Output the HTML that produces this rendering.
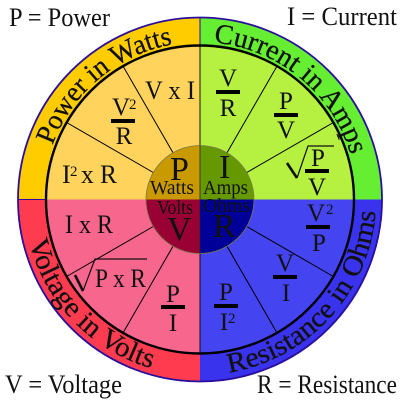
<!DOCTYPE html>
<html lang="en">
<head>
<meta charset="utf-8">
<title>Ohm's Law Wheel</title>
<style>
html,body{margin:0;padding:0;background:#fff;width:400px;height:400px;overflow:hidden}
svg{display:block}
text{font-family:"Liberation Serif",serif;fill:#111}
.lbl{font-size:26px}
.ring{font-size:28px;font-weight:normal;stroke:#111;stroke-width:.3px}
.f{font-size:25px;text-anchor:middle}
.fl{font-size:26px}
.sup{font-size:15px}
.hub-big{font-size:34px}
.hub-sm{font-size:20px}
.bar{fill:#000}
.rad{fill:none;stroke:#111;stroke-width:1.2}
.rad-thick{fill:none;stroke:#111;stroke-width:2.6}
.ring-0{fill:#ffcc00}.ring-1{fill:#66ee33}.ring-2{fill:#3a33ee}.ring-3{fill:#ff3b50}
.body-0{fill:#ffd35c}.body-1{fill:#b6f040}.body-2{fill:#4444f0}.body-3{fill:#f7668c}
.hub-0{fill:#c99a00}.hub-1{fill:#669900}.hub-2{fill:#000099}.hub-3{fill:#990033}
</style>
</head>
<body>
<svg xmlns="http://www.w3.org/2000/svg" width="400" height="400" viewBox="0 0 400 400">
  <defs>
    <path id="arc-power" d="M52.5 145.3A157 157 0 0 1 172.7 44.4"/>
    <path id="arc-current" d="M213.7 42.6A157 157 0 0 1 350.6 154.7"/>
    <path id="arc-voltage" d="M29.2 241.6A176 176 0 0 0 151.5 368.2"/>
    <path id="arc-resistance" d="M229 372.6A176 176 0 0 0 375.7 210"/>
  </defs>
  <g id="marks"></g>

  <text class="lbl" x="9" y="26" textLength="101" lengthAdjust="spacingAndGlyphs">P = Power</text>
  <text class="lbl" x="287" y="25" textLength="110" lengthAdjust="spacingAndGlyphs">I = Current</text>
  <text class="lbl" x="5" y="393" textLength="117" lengthAdjust="spacingAndGlyphs">V = Voltage</text>
  <text class="lbl" x="257" y="393" textLength="140" lengthAdjust="spacingAndGlyphs">R = Resistance</text>

  <text class="ring"><textPath href="#arc-power" textLength="164" lengthAdjust="spacingAndGlyphs">Power in Watts</textPath></text>
  <text class="ring"><textPath href="#arc-current" textLength="188" lengthAdjust="spacingAndGlyphs">Current in Amps</textPath></text>
  <text class="ring"><textPath href="#arc-voltage" textLength="184" lengthAdjust="spacingAndGlyphs">Voltage in Volts</textPath></text>
  <text class="ring"><textPath href="#arc-resistance" textLength="235" lengthAdjust="spacingAndGlyphs">Resistance in Ohms</textPath></text>

  <!-- Power formulas -->
  <g><text class="fl" x="145" y="99" textLength="50" lengthAdjust="spacingAndGlyphs">V x I</text></g>
  <g>
    <text class="f" x="121" y="115">V</text><text class="sup" x="129" y="109">2</text>
    <rect class="bar" x="111" y="119" width="24" height="4"/>
    <text class="f" x="124" y="144">R</text>
  </g>
  <g>
    <text class="fl" x="62" y="183">I</text><text class="sup" x="70" y="176">2</text>
    <text class="fl" x="81" y="183" textLength="36" lengthAdjust="spacingAndGlyphs">x R</text>
  </g>

  <!-- Current formulas -->
  <g>
    <text class="f" x="228" y="86">V</text><rect class="bar" x="216" y="90" width="24" height="4"/><text class="f" x="228" y="116">R</text>
  </g>
  <g>
    <text class="f" x="286" y="109">P</text><rect class="bar" x="274" y="113" width="24" height="4"/><text class="f" x="286" y="138">V</text>
  </g>
  <g>
    <path class="rad-thick" d="M287 163L297 178"/>
    <path class="rad" d="M297 178L308 146H334"/>
    <text class="f" x="318" y="166">P</text><rect class="bar" x="305" y="169" width="24" height="4"/><text class="f" x="317" y="195">V</text>
  </g>

  <!-- Resistance formulas -->
  <g>
    <text class="f" x="316" y="221">V</text><text class="sup" x="326" y="214">2</text>
    <rect class="bar" x="306" y="225" width="24" height="4"/>
    <text class="f" x="319" y="251">P</text>
  </g>
  <g>
    <text class="f" x="285" y="271">V</text><rect class="bar" x="273" y="275" width="24" height="4"/><text class="f" x="286" y="301">I</text>
  </g>
  <g>
    <text class="f" x="226" y="300">P</text><rect class="bar" x="214" y="304" width="24" height="4"/>
    <text class="f" x="224" y="330">I</text><text class="sup" x="228" y="323">2</text>
  </g>

  <!-- Voltage formulas -->
  <g><text class="fl" x="65" y="233" textLength="48" lengthAdjust="spacingAndGlyphs">I x R</text></g>
  <g>
    <path class="rad-thick" d="M75 275L83 291"/>
    <path class="rad" d="M83 291L95 259H147"/>
    <text class="fl" x="95" y="287" textLength="51" lengthAdjust="spacingAndGlyphs">P x R</text>
  </g>
  <g>
    <text class="f" x="173" y="302">P</text><rect class="bar" x="161" y="305" width="24" height="4"/><text class="f" x="173" y="331">I</text>
  </g>

  <!-- Hub -->
  <text class="hub-big" x="170" y="180">P</text>
  <text class="hub-big" x="219" y="178">I</text>
  <text class="hub-big" x="167" y="240">V</text>
  <text class="hub-big" x="213" y="237">R</text>
  <text class="hub-sm" x="150" y="194" textLength="44" lengthAdjust="spacingAndGlyphs">Watts</text>
  <text class="hub-sm" x="203" y="194" textLength="45" lengthAdjust="spacingAndGlyphs">Amps</text>
  <text class="hub-sm" x="157" y="214" textLength="36" lengthAdjust="spacingAndGlyphs">Volts</text>
  <text class="hub-sm" x="203" y="212" textLength="47" lengthAdjust="spacingAndGlyphs">Ohms</text>
</svg>
<script>
// Share of the wheel for each quantity, clockwise from the 9 o'clock position.
const quantities = ['power', 'current', 'resistance', 'voltage'];
const quadrantShares = [25, 25, 25, 25];
const formulaCounts = [3, 3, 3, 3];

const NS = 'http://www.w3.org/2000/svg';
const marks = document.getElementById('marks');
const CX = 200, CY = 199.5, R_RING = 182, R_BODY = 154, R_HUB = 54;
const total = quadrantShares.reduce(function (a, b) { return a + b; }, 0);

function angleOf(share) { return Math.PI + (share / total) * 2 * Math.PI; }
function px(r, a) { return CX + r * Math.cos(a); }
function py(r, a) { return CY + r * Math.sin(a); }

function wedgePath(r, a0, a1) {
  const large = a1 - a0 > Math.PI ? 1 : 0;
  return 'M' + CX + ' ' + CY + 'L' + px(r, a0) + ' ' + py(r, a0) +
    'A' + r + ' ' + r + ' 0 ' + large + ' 1 ' + px(r, a1) + ' ' + py(r, a1) + 'Z';
}

function drawSlices(radius, prefix, suffix) {
  let acc = 0;
  quadrantShares.forEach(function (share, i) {
    const p = document.createElementNS(NS, 'path');
    p.setAttribute('d', wedgePath(radius, angleOf(acc), angleOf(acc + share)));
    p.setAttribute('class', prefix + '-' + i);
    
    
    marks.appendChild(p);
    acc += share;
  });
}

function drawCircle(r, stroke, width, name) {
  const c = document.createElementNS(NS, 'circle');
  c.setAttribute('cx', CX);
  c.setAttribute('cy', CY);
  c.setAttribute('r', r);
  c.setAttribute('fill', 'none');
  c.setAttribute('stroke', stroke);
  c.setAttribute('stroke-width', width);
  
  
  marks.appendChild(c);
}

function drawLine(r0, r1, a, width, color, name) {
  const l = document.createElementNS(NS, 'line');
  l.setAttribute('x1', px(r0, a));
  l.setAttribute('y1', py(r0, a));
  l.setAttribute('x2', px(r1, a));
  l.setAttribute('y2', py(r1, a));
  l.setAttribute('stroke', color);
  l.setAttribute('stroke-width', width);
  
  
  marks.appendChild(l);
}

drawSlices(R_RING, 'ring', 'ring-slice');
drawCircle(R_RING, '#2a0f9c', 1.8, 'outer-edge');
drawSlices(R_BODY, 'body', 'formula-slice');

let acc = 0;
quadrantShares.forEach(function (share, i) {
  for (let k = 1; k < formulaCounts[i]; k++) {
    drawLine(R_HUB, R_BODY, angleOf(acc + share * k / formulaCounts[i]), 1, '#000', 'formula-divider');
  }
  // Only the left and top boundaries are ruled in the ring; only the vertical is ruled in the body.
  if (i < 2) drawLine(R_BODY, R_RING, angleOf(acc), 1, '#3300aa', 'ring-divider');
  if (i % 2 === 1) drawLine(R_HUB, R_BODY, angleOf(acc), 1, '#111', 'body-divider');
  acc += share;
});

drawCircle(R_BODY, '#000', 2.4, 'formula-ring-edge');
drawSlices(R_HUB, 'hub', 'hub-slice');
drawCircle(R_HUB, '#7a7a4a', 0.8, 'hub-edge');
acc = 0;
quadrantShares.forEach(function (share, i) {
  if (i % 2 === 1) drawLine(0, R_HUB, angleOf(acc), 0.8, '#222', 'hub-divider');
  acc += share;
});
</script>
</body>
</html>
